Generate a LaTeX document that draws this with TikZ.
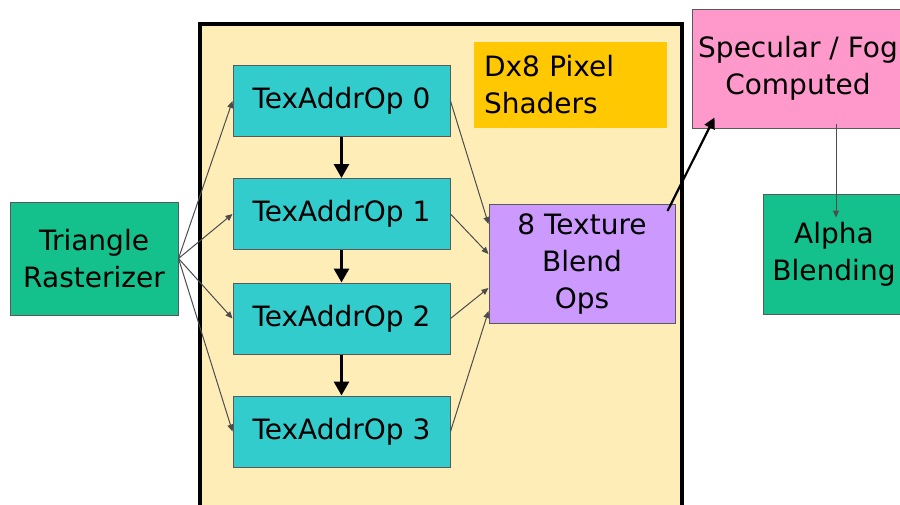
\documentclass[tikz,border=0pt]{standalone}
\usepackage{fontspec}
\setmainfont{DejaVu Sans}
\usetikzlibrary{arrows.meta,calc}
\definecolor{frameyel}{HTML}{FFEDB8}
\definecolor{teal}{HTML}{33CCCC}
\definecolor{grn}{HTML}{14C08C}
\definecolor{orng}{HTML}{FFC800}
\definecolor{purp}{HTML}{CC99FF}
\definecolor{pnk}{HTML}{FF99CC}
\begin{document}
\begin{tikzpicture}[x=0.5pt,y=-0.5pt,
  boxstyle/.style={draw=black!65, line width=0.5pt, inner sep=0pt, align=center,
    font=\fontsize{14}{18.5}\selectfont},
  texbox/.style={boxstyle, fill=teal, minimum width=108.5pt, minimum height=35.5pt},
  thin/.style={draw=black!70, line width=0.5pt, -{Triangle[length=3.5pt,width=3pt]}},
  thick/.style={draw=black, line width=1.5pt, -{Triangle[length=7pt,width=7.5pt]}},
  mid/.style={draw=black, line width=1.1pt, -{Triangle[length=5.5pt,width=5.5pt]}}]
\useasboundingbox (0,0) rectangle (900,504);
\fill[white] (0,0) rectangle (900,504);
% outer frame
\node[draw=black, line width=1.6pt, fill=frameyel, minimum width=241pt, minimum height=243pt, inner sep=0pt] (frame) at (441,267) {};
% nodes
\node[boxstyle, fill=grn, minimum width=84pt, minimum height=56.5pt] (tri) at (94,258.5) {Triangle\\Rasterizer};
\node[texbox] (t0) at (341.5,101) {TexAddrOp 0};
\node[texbox] (t1) at (341.5,214) {TexAddrOp 1};
\node[texbox] (t2) at (341.5,318.5) {TexAddrOp 2};
\node[texbox] (t3) at (341.5,431.5) {TexAddrOp 3};
\node[boxstyle, draw=none, fill=orng, minimum height=43pt, text width=86.5pt, inner xsep=5pt, align=left] (dx) at (570.5,85) {Dx8 Pixel\\Shaders};
\node[boxstyle, fill=purp, minimum width=93pt, minimum height=59.5pt] (blend) at (582,264) {8 Texture\\Blend\\Ops};
\node[boxstyle, fill=pnk, minimum width=106pt, minimum height=59.5pt] (spec) at (798,68.5) {Specular / Fog\\Computed};
\node[boxstyle, fill=grn, minimum width=71pt, minimum height=60pt] (alpha) at (834,254) {Alpha\\Blending};
% fan out from rasterizer
\foreach \t in {t0,t1,t2,t3} \draw[thin] (tri.east) -- (\t.west);
% stack arrows
\draw[thick] (t0.south) -- (t1.north);
\draw[thick] (t1.south) -- (t2.north);
\draw[thick] (t2.south) -- (t3.north);
% to blend
\draw[thin] (t0.east) -- ($(blend.north west)+(0,20)$);
\draw[thin] (t1.east) -- ($(blend.north west)+(0,50)$);
\draw[thin] (t2.east) -- ($(blend.north west)+(0,84)$);
\draw[thin] (t3.east) -- ($(blend.north west)+(0,107)$);
% blend to spec
\draw[mid] ($(blend.north east)+(-8,7)$) -- ($(spec.south west)+(23,-11)$);
% spec to alpha
\draw[thin] ($(alpha.center |- spec.south)+(2,-5)$) -- ($(alpha.north)+(2,24)$);
\end{tikzpicture}
\end{document}
